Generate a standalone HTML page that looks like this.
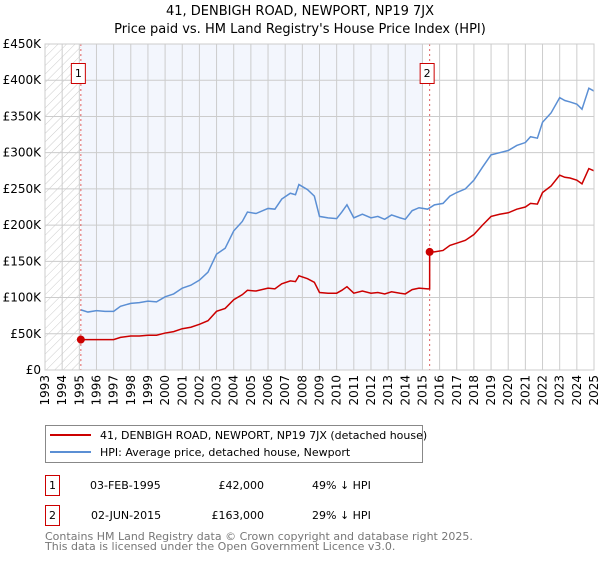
<!DOCTYPE html>
<html><head><meta charset="utf-8"><style>
body{margin:0;background:#fff;font-family:"DejaVu Sans","Liberation Sans",sans-serif;}
svg text{font-family:"DejaVu Sans","Liberation Sans",sans-serif;}
</style></head><body>
<svg id="c" width="600" height="560" xmlns="http://www.w3.org/2000/svg">
<defs><pattern id="hatch" width="6" height="6" patternUnits="userSpaceOnUse" patternTransform="rotate(45)"><line x1="0" y1="0" x2="0" y2="6" stroke="#ccc" stroke-width="1"/></pattern></defs>
<text x="300" y="15" text-anchor="middle" font-size="13">41, DENBIGH ROAD, NEWPORT, NP19 7JX</text>
<text x="300" y="33" text-anchor="middle" font-size="13">Price paid vs. HM Land Registry's House Price Index (HPI)</text>
<g id="plot"></g>
<g>
<rect x="45.5" y="425.5" width="377" height="37" fill="#fff" stroke="#888"/>
<line x1="50" y1="435" x2="91" y2="435" stroke="#cc0000" stroke-width="2"/>
<text x="100" y="439" font-size="11">41, DENBIGH ROAD, NEWPORT, NP19 7JX (detached house)</text>
<line x1="50" y1="452" x2="91" y2="452" stroke="#5b8fd4" stroke-width="2"/>
<text x="100" y="456" font-size="11">HPI: Average price, detached house, Newport</text>
</g>
<g font-size="11">
<rect x="45.5" y="475.5" width="14" height="20" fill="#fff" stroke="#cc0000"/>
<text x="52.5" y="489" text-anchor="middle">1</text>
<text x="90" y="489">03-FEB-1995</text>
<text x="264" y="489" text-anchor="end">£42,000</text>
<text x="312" y="489">49% ↓ HPI</text>
<rect x="45.5" y="505.5" width="14" height="20" fill="#fff" stroke="#cc0000"/>
<text x="52.5" y="519" text-anchor="middle">2</text>
<text x="91" y="519">02-JUN-2015</text>
<text x="264" y="519" text-anchor="end">£163,000</text>
<text x="312" y="519">29% ↓ HPI</text>
</g>
<text x="45" y="540" font-size="11" fill="#777">Contains HM Land Registry data © Crown copyright and database right 2025.</text>
<text x="45" y="550" font-size="11" fill="#777">This data is licensed under the Open Government Licence v3.0.</text>
</svg>
<script>
const yTicks=[0,50,100,150,200,250,300,350,400,450];
const yTickLabels=["£0","£50K","£100K","£150K","£200K","£250K","£300K","£350K","£400K","£450K"];
const xYears=[1993,1994,1995,1996,1997,1998,1999,2000,2001,2002,2003,2004,2005,2006,2007,2008,2009,2010,2011,2012,2013,2014,2015,2016,2017,2018,2019,2020,2021,2022,2023,2024,2025];
const hpiX=[1995.1,1995.5,1996,1996.5,1997,1997.4,1998,1998.5,1999,1999.5,2000,2000.5,2001,2001.5,2002,2002.5,2003,2003.5,2004,2004.5,2004.8,2005.3,2006,2006.4,2006.8,2007.3,2007.6,2007.8,2008.3,2008.7,2009,2009.5,2010,2010.3,2010.6,2011,2011.5,2012,2012.4,2012.8,2013.2,2013.7,2014,2014.4,2014.8,2015.3,2015.7,2016.2,2016.6,2017,2017.5,2018,2018.5,2019,2019.5,2020,2020.5,2021,2021.3,2021.7,2022,2022.5,2023,2023.3,2023.6,2024,2024.3,2024.7,2025];
const hpiY=[83,80,82,81,81,88,92,93,95,94,101,105,113,117,124,135,160,168,192,205,218,216,223,222,236,244,242,256,249,240,212,210,209,218,228,210,215,210,212,208,214,210,208,220,224,222,228,230,240,245,250,262,280,297,300,303,310,314,322,320,342,355,376,372,370,367,360,389,385];
const ppX=[1995.09,1996,1997,1997.4,1998,1998.5,1999,1999.5,2000,2000.5,2001,2001.5,2002,2002.5,2003,2003.5,2004,2004.5,2004.8,2005.3,2006,2006.4,2006.8,2007.3,2007.6,2007.8,2008.3,2008.7,2009,2009.5,2010,2010.3,2010.6,2011,2011.5,2012,2012.4,2012.8,2013.2,2013.7,2014,2014.4,2014.8,2015.3,2015.42,2015.42,2015.7,2016.2,2016.6,2017,2017.5,2018,2018.5,2019,2019.5,2020,2020.5,2021,2021.3,2021.7,2022,2022.5,2023,2023.3,2023.6,2024,2024.3,2024.7,2025];
const ppY=[42,42,42,45,47,47,48,48,51,53,57,59,63,68,81,85,97,104,110,109,113,112,119,123,122,130,126,121,107,106,106,110,115,106,109,106,107,105,108,106,105,111,113,112,112,163,163,165,172,175,179,187,200,212,215,217,222,225,230,229,245,254,269,266,265,262,257,278,275];
const saleX=[1995.09,2015.42];
const saleY=[42,163];
const saleLabels=["1","2"];

const X0=45,X1=594,Y0=370,Y1=44;
const xs=v=>X0+(v-1993)/(2025-1993)*(X1-X0);
const ys=v=>Y0-v/450*(Y0-Y1);
const NS="http://www.w3.org/2000/svg";
const g=document.getElementById('plot');
function mk(t,a){const e=document.createElementNS(NS,t);for(const k in a)e.setAttribute(k,a[k]);g.appendChild(e);return e;}
let e;
e=mk('rect',{x:X0,y:Y1,width:xs(saleX[0])-X0,height:Y0-Y1,fill:'url(#hatch)'});


e=mk('rect',{x:xs(saleX[0]),y:Y1,width:xs(2015.0)-xs(saleX[0]),height:Y0-Y1,fill:'#f3f6fd'});


xYears.forEach(y=>{
 e=mk('line',{x1:xs(y),x2:xs(y),y1:Y1,y2:Y0,stroke:'#ccc','stroke-width':1});
 
 
 e=mk('text',{x:0,y:0,'font-size':12,'text-anchor':'end',transform:`translate(${xs(y)+4},${Y0+5}) rotate(-90)`});
 e.textContent=y;
 
 
});
yTicks.forEach((v,i)=>{
 e=mk('line',{x1:X0,x2:X1,y1:ys(v),y2:ys(v),stroke:'#ccc','stroke-width':1});
 
 
 e=mk('text',{x:X0-4,y:ys(v)+4,'font-size':12,'text-anchor':'end'});
 e.textContent=yTickLabels[i];
 
 
});
saleX.forEach((sx,i)=>{
 e=mk('line',{x1:xs(sx),x2:xs(sx),y1:Y1,y2:Y0,stroke:'#e06060','stroke-dasharray':'2,3','stroke-width':1});
 
 
 e=mk('rect',{x:xs(sx)-9.5,y:63.5,width:14,height:20,fill:'#fff',stroke:'#cc0000'});
 
 
 e=mk('text',{x:xs(sx)-2.5,y:77,'font-size':11,'text-anchor':'middle'});
 e.textContent=saleLabels[i];
 
 
});
e=mk('polyline',{points:hpiX.map((x,i)=>xs(x)+','+ys(hpiY[i])).join(' '),fill:'none',stroke:'#5b8fd4','stroke-width':1.5});


e=mk('polyline',{points:ppX.map((x,i)=>xs(x)+','+ys(ppY[i])).join(' '),fill:'none',stroke:'#cc0000','stroke-width':1.5});


saleX.forEach((sx,i)=>{
 e=mk('circle',{cx:xs(sx),cy:ys(saleY[i]),r:4,fill:'#cc0000'});
 
 
});
e=mk('rect',{x:X0,y:Y1,width:X1-X0,height:Y0-Y1,fill:'none',stroke:'#ccc'});


</script>
</body></html>
